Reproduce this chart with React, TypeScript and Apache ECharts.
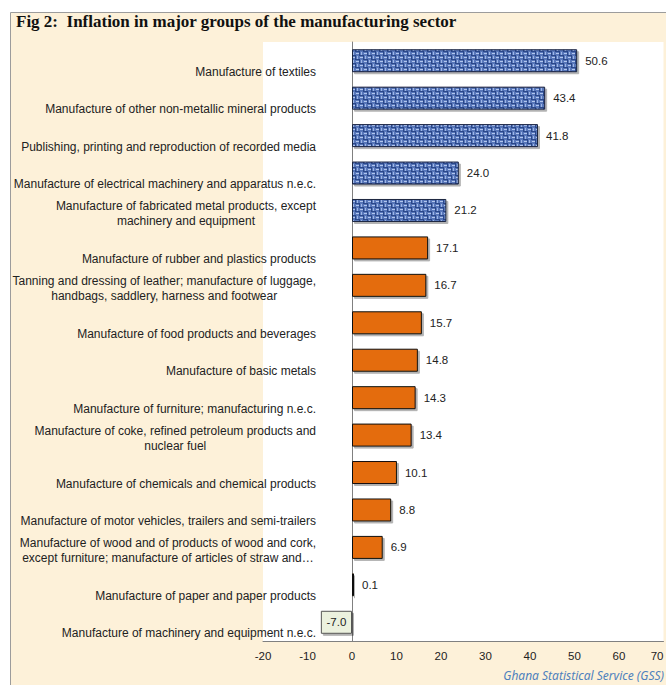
import React, { useEffect, useRef } from "react";
import * as echarts from "echarts";

const categories: string[] = [
  "Manufacture of textiles",
  "Manufacture of other non-metallic mineral products",
  "Publishing, printing and reproduction of recorded media",
  "Manufacture of electrical machinery and apparatus n.e.c.",
  "Manufacture of fabricated metal products, except\nmachinery and equipment",
  "Manufacture of rubber and plastics products",
  "Tanning and dressing of leather; manufacture of luggage,\nhandbags, saddlery, harness and footwear",
  "Manufacture of food products and beverages",
  "Manufacture of basic metals",
  "Manufacture of furniture; manufacturing n.e.c.",
  "Manufacture of coke, refined petroleum products and\nnuclear fuel",
  "Manufacture of chemicals and chemical products",
  "Manufacture of motor vehicles, trailers and semi-trailers",
  "Manufacture of wood and of products of wood and cork,\nexcept furniture; manufacture of articles of straw and…",
  "Manufacture of paper and paper products",
  "Manufacture of machinery and equipment n.e.c.",
];

const values: number[] = [50.6, 43.4, 41.8, 24.0, 21.2, 17.1, 16.7, 15.7, 14.8, 14.3, 13.4, 10.1, 8.8, 6.9, 0.1, -7.0];

// number of top groups drawn with the blue textured fill
const highlightedCount = 5;

const xMin = -20;
const xMax = 70;
const xInterval = 10;

const titleText = "Fig 2:  Inflation in major groups of the manufacturing sector";
const sourceText = "Ghana Statistical Service (GSS)";

const FONT = '"Liberation Sans", Arial, sans-serif';
const LABEL_SIZE = 12;

function makeTexture(): HTMLCanvasElement {
  const c = document.createElement("canvas");
  c.width = 16;
  c.height = 16;
  const ctx = c.getContext("2d")!;
  ctx.fillStyle = "#5877ba";
  ctx.fillRect(0, 0, 16, 16);
  for (let i = 0; i < 4; i++) {
    for (let j = 0; j < 4; j++) {
      const x0 = i * 4;
      const y0 = j * 4;
      if ((i + j) % 2 === 0) {
        ctx.fillStyle = "#b3c7ee";
        ctx.fillRect(x0, y0 + 1, 3, 1);
        ctx.fillStyle = "#2c4689";
        ctx.fillRect(x0 + 3, y0, 1, 4);
      } else {
        ctx.fillStyle = "#9fb7e6";
        ctx.fillRect(x0 + 1, y0, 1, 3);
        ctx.fillStyle = "#2c4689";
        ctx.fillRect(x0, y0 + 3, 4, 1);
      }
    }
  }
  return c;
}

export default function App() {
  const ref = useRef<HTMLDivElement>(null);

  useEffect(() => {
    if (!ref.current) return;
    const chart = echarts.init(ref.current, null, { renderer: "svg" });
    const texture = makeTexture();

    const seriesData = values.map((v, i) => {
      if (v < 0) {
        return {
          value: v,
          itemStyle: { color: "#ebf1de", borderColor: "#555", borderWidth: 1 },
          label: { position: "inside" },
        };
      }
      if (i < highlightedCount) {
        return {
          value: v,
          itemStyle: {
            color: { image: texture, repeat: "repeat" },
            borderColor: "#1c2540",
            borderWidth: 1,
          },
        };
      }
      return {
        value: v,
        itemStyle: { color: "#e46c0a", borderColor: "#111", borderWidth: 1 },
      };
    });

    const option: any = {
      animation: false,
      backgroundColor: "#ffffff",
      grid: {
        left: 263,
        right: 2.5,
        top: 42,
        bottom: 44,
        show: true,
        backgroundColor: "#ffffff",
        borderWidth: 0,
        containLabel: false,
        outerBoundsMode: "none",
      },
      xAxis: {
        type: "value",
        min: xMin,
        max: xMax,
        interval: xInterval,
        axisLine: { show: true, onZero: false, lineStyle: { color: "#808080", width: 1 } },
        axisTick: { show: false },
        splitLine: { show: false },
        axisLabel: {
          margin: 9,
          fontSize: 11.5,
          color: "#222",
          fontFamily: FONT,
          alignMaxLabel: "right",
        },
      },
      yAxis: {
        type: "category",
        data: categories,
        inverse: true,
        axisLine: { show: true, onZero: true, lineStyle: { color: "#808080", width: 1 } },
        axisTick: { show: false },
        axisLabel: {
          interval: 0,
          inside: true,
          margin: 53,
          align: "right",
          verticalAlign: "middle",
          lineHeight: 9,
          fontSize: LABEL_SIZE,
          color: "#222",
          fontFamily: FONT,
          formatter: (v: string) => {
            const parts = v.split("\n");
            return parts.length > 1 ? `{a|${parts[0]}}\n{b|${parts[1]}}` : `{a|}\n{b|${v}}`;
          },
          rich: {
            a: { lineHeight: 22, align: "center", fontSize: LABEL_SIZE, fontFamily: FONT, color: "#222" },
            b: { lineHeight: 9, align: "center", fontSize: LABEL_SIZE, fontFamily: FONT, color: "#222" },
          },
        },
      },
      series: [
        {
          type: "bar",
          data: seriesData,
          barWidth: 23,
          barMinHeight: 2,
          itemStyle: {
            shadowColor: "rgba(0,0,0,0.3)",
            shadowBlur: 1,
            shadowOffsetX: 2,
            shadowOffsetY: 2,
          },
          label: {
            show: true,
            position: "right",
            distance: 8,
            fontSize: 11.5,
            color: "#222",
            fontFamily: FONT,
            formatter: (p: any) => Number(p.value).toFixed(1),
          },
        },
      ],
      graphic: [
        {
          type: "rect",
          z: -100,
          silent: true,
          shape: { x: 10.5, y: 12.5, width: 800, height: 800 },
          style: { fill: "#fdf1d9", stroke: "#9c9c9c", lineWidth: 1 },
        },
        {
          type: "text",
          left: 16,
          top: 13,
          style: {
            text: titleText,
            font: 'bold 17px "Liberation Serif", "Times New Roman", serif',
            fill: "#111",
          },
        },
        {
          type: "text",
          right: 2,
          top: 669,
          style: {
            text: sourceText,
            font: 'italic 12px "Noto Sans", sans-serif',
            fill: "#4f81bd",
          },
        },
      ],
    };

    chart.setOption(option);
    return () => chart.dispose();
  }, []);

  return (
    <div
      ref={ref}
      style={{ position: "fixed", left: 0, top: 0, width: 666, height: 685 }}
    />
  );
}
